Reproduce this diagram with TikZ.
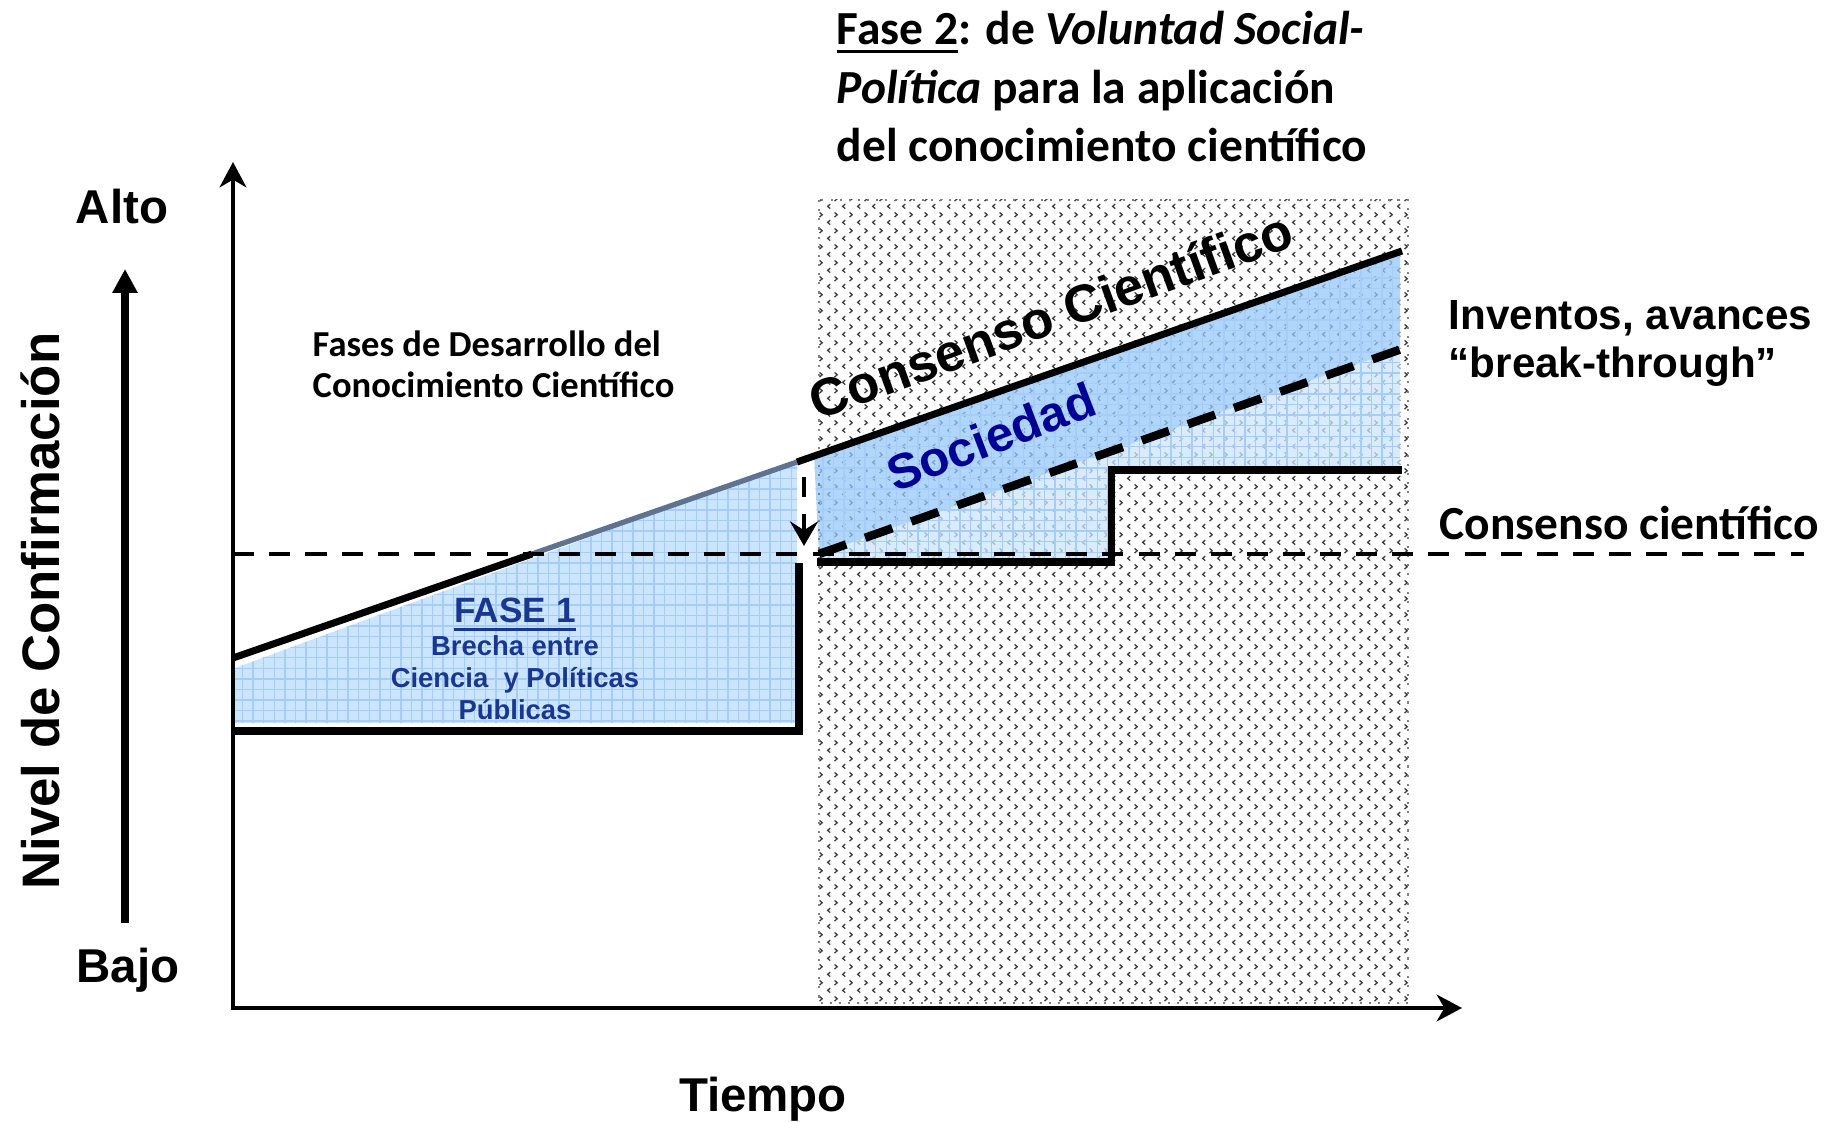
\documentclass[tikz,border=0pt]{standalone}
\usepackage{fontspec}
\setmainfont{Carlito}
\newfontfamily\arial{Liberation Sans}
\usetikzlibrary{arrows.meta,patterns}

\definecolor{skyfill}{RGB}{204,229,255}
\definecolor{skydark}{RGB}{150,200,250}
\definecolor{skygrid}{RGB}{165,205,248}
\definecolor{navytext}{RGB}{0,0,150}
\definecolor{fasetext}{RGB}{25,55,145}
\definecolor{shadeline}{RGB}{95,115,145}

% stipple of the second phase
\pgfdeclarepatternformonly{stipple}{\pgfqpoint{0pt}{0pt}}{\pgfqpoint{4.27pt}{4.55pt}}{\pgfqpoint{4.27pt}{4.55pt}}{%
  \pgfsetlinewidth{0.4pt}%
  \pgfpathmoveto{\pgfqpoint{1.6pt}{1.8pt}}%
  \pgfpathlineto{\pgfqpoint{0.8pt}{1.1pt}}%
  \pgfpathlineto{\pgfqpoint{1.6pt}{0.4pt}}%
  \pgfpathmoveto{\pgfqpoint{2.9pt}{4.1pt}}%
  \pgfpathlineto{\pgfqpoint{3.7pt}{3.4pt}}%
  \pgfpathlineto{\pgfqpoint{2.9pt}{2.7pt}}%
  \pgfusepath{stroke}%
}

\newcommand{\ulbar}[1]{\setbox0\hbox{#1}\rlap{\rule[-2.4pt]{\wd0}{1.1pt}}\box0}

\begin{document}
\begin{tikzpicture}[x=0.01cm,y=-0.01cm,
	every node/.style={inner sep=0pt},
	axis/.style={line width=1.4pt},
	level/.style={line width=2pt,line join=miter},
	gridfill/.style={pattern=grid,pattern color=skygrid},
	biglabel/.style={font=\arial\bfseries\fontsize{13.5}{16}\selectfont},
	callabel/.style={font=\bfseries\fontsize{13.5}{16.5}\selectfont}]
	\useasboundingbox (0,0) rectangle (1843,1122);

	% fase 2 zone
	\fill[pattern=stipple,pattern color=black!75] (819,200) rectangle (1408,1003);
	\fill[skydark,fill opacity=0.75] (814,456) -- (1400,252) -- (1400,349) -- (819,554) -- cycle;
	\fill[skyfill,fill opacity=0.75] (819,554) -- (1400,349) -- (1400,470) -- (1111,470) -- (1111,558) -- (819,558) -- cycle;
	\fill[gridfill] (814,456) -- (1400,252) -- (1400,470) -- (1111,470) -- (1111,558) -- (819,558) -- cycle;
	\draw[gray,dotted,line width=0.6pt] (819,200) rectangle (1408,1003);

	% fase 1 gap
	\fill[skyfill] (235,668) -- (797,461) -- (797,723) -- (235,723) -- cycle;
	\fill[gridfill] (235,668) -- (797,461) -- (797,723) -- (235,723) -- cycle;

	% axes
	\coordinate (o) at (233,1008);
	\coordinate (ytop) at (233,162);
	\coordinate (xend) at (1462,1008);
	\draw[axis,{Stealth[length=7.2pt,width=7.6pt,inset=2.2pt]}-{Stealth[length=7.2pt,width=7.6pt,inset=2.2pt]}] (ytop) -- (o) -- (xend);
	\draw[line width=2pt,-{Triangle[length=6.8pt,width=6.8pt]}] (125,923) -- (125,269);

	% consenso line
	\coordinate (c0) at (233,658);
	\coordinate (c1) at (532,554);
	\coordinate (c2) at (797,462);
	\coordinate (c3) at (1402,251);
	\draw[level] (c0) -- (c1);
	\draw[shadeline,line width=1.5pt] (c1) -- (c2);
	\draw[level] (c2) -- (c3);

	% steps
	\draw[level] (233,731) -- (799,731) -- (799,563);
	\draw[level] (817,562) -- (1111,562) -- (1111,470) -- (1402,470);

	% dashed lines
	\draw[line width=1.3pt,dash pattern=on 6pt off 4.3pt] (233,554) -- (1804,554);
	\draw[line width=2.4pt,dash pattern=on 8.2pt off 5.7pt] (819,554) -- (1413,345);
	\draw[line width=1.2pt,dash pattern=on 5.7pt off 4.8pt,-{Stealth[length=7pt,width=8pt,inset=2.5pt]}] (804,477) -- (804,546);

	% labels
	\draw (836,45) node[callabel,anchor=base west] (fase2) {\begin{tabular}[t]{@{}l@{}}\ulbar{Fase 2}: de \textit{Voluntad Social-}\\\textit{Política} para la aplicación\\del conocimiento científico\end{tabular}};
	\draw (312,357) node[font=\bfseries\fontsize{10.4}{11.6}\selectfont,anchor=base west] (fases) {\begin{tabular}[t]{@{}l@{}}Fases de Desarrollo del\\Conocimiento Científico\end{tabular}};
	\draw (1448,330) node[font=\arial\bfseries\fontsize{12}{13.6}\selectfont,anchor=base west] (inventos) {\begin{tabular}[t]{@{}l@{}}Inventos, avances\\“break-through”\end{tabular}};
	\draw (1439,540) node[callabel,anchor=base west] (consenso) {Consenso científico};
	\draw (122,224) node[biglabel,anchor=base] (alto) {Alto};
	\draw (128,982) node[biglabel,anchor=base] (bajo) {Bajo};
	\draw (763,1111) node[biglabel,anchor=base] (tiempo) {Tiempo};
	\draw (59,611) node[font=\arial\bfseries\fontsize{15}{18}\selectfont,anchor=base,rotate=90] (nivel) {Nivel de Confirmación};
	\draw (1051,315) node[font=\arial\bfseries\fontsize{15}{18}\selectfont,rotate=20] (ccien) {Consenso Científico};
	\draw (991,437) node[font=\arial\bfseries\fontsize{14}{17}\selectfont,text=navytext,rotate=21] (soc) {Sociedad};
	\draw (515,623) node[font=\arial\bfseries\fontsize{10}{12}\selectfont,text=fasetext,anchor=base] (fase1) {\ulbar{FASE 1}};
	\draw (515,655) node[font=\arial\bfseries\fontsize{7.8}{9.2}\selectfont,text=fasetext,anchor=base] (brecha) {\begin{tabular}[t]{@{}c@{}}Brecha entre\\Ciencia\ \ y Políticas\\Públicas\end{tabular}};
\end{tikzpicture}
\end{document}
